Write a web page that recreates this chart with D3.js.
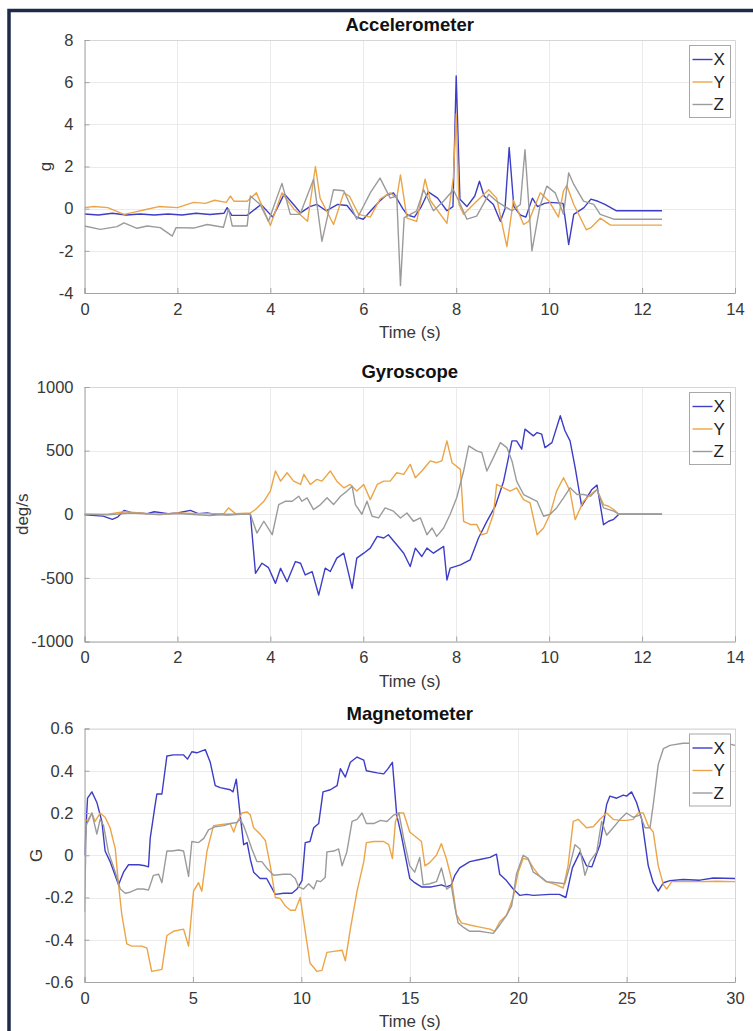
<!DOCTYPE html>
<html>
<head>
<meta charset="utf-8">
<script src="https://cdn.jsdelivr.net/npm/d3@7/dist/d3.min.js"></script>
<style>
	body { margin: 0; background: #ffffff; }
	svg text { font-family: "Liberation Sans", Arial, Helvetica, sans-serif; }
</style>
</head>
<body>
<div class="chart"></div>
<script>
// ---- data: [time (s), value] ----
var seriesNames = ["X", "Y", "Z"];

var accX = [[0,-0.25],[0.3,-0.3],[0.6,-0.22],[0.9,-0.3],[1.2,-0.25],[1.5,-0.3],[1.8,-0.25],[2.1,-0.3],[2.4,-0.22],[2.7,-0.28],[3.0,-0.22],[3.07,0.05],[3.17,-0.32],[3.5,-0.32],[3.8,0.2],[4.05,-0.4],[4.3,0.7],[4.5,0.2],[4.65,-0.2],[4.85,0.1],[5.0,0.2],[5.2,-0.1],[5.45,0.2],[5.65,0.15],[5.85,-0.4],[6.0,-0.5],[6.2,0.0],[6.35,0.35],[6.5,0.65],[6.65,0.75],[6.85,0.0],[6.95,-0.3],[7.1,-0.4],[7.25,0.1],[7.4,0.8],[7.6,0.5],[7.8,-0.1],[7.93,0.1],[8.0,6.3],[8.08,0.45],[8.23,0.1],[8.4,0.6],[8.5,1.3],[8.6,0.6],[8.8,0.2],[8.95,-0.6],[9.05,0.0],[9.14,2.9],[9.24,0.1],[9.38,-0.3],[9.5,-0.4],[9.64,0.5],[9.75,0.1],[9.9,0.25],[10.03,0.3],[10.3,0.25],[10.42,-1.7],[10.53,-0.27],[10.75,0.05],[10.9,0.45],[11.05,0.35],[11.2,0.2],[11.45,-0.1],[12.43,-0.1]];
var accY = [[0,0.05],[0.2,0.1],[0.5,0.05],[0.85,-0.27],[1.1,-0.15],[1.3,-0.05],[1.6,0.1],[2.0,0.05],[2.35,0.3],[2.6,0.25],[2.8,0.4],[3.05,0.3],[3.14,0.6],[3.22,0.35],[3.5,0.35],[3.7,0.75],[4.0,-0.8],[4.25,0.75],[4.5,0.0],[4.8,-0.6],[4.97,2.0],[5.07,0.5],[5.36,-0.75],[5.58,0.75],[5.7,0.6],[5.9,-0.27],[6.15,-0.4],[6.36,0.45],[6.58,0.75],[6.72,0.5],[6.8,1.6],[6.94,-0.45],[7.15,-0.6],[7.33,1.4],[7.44,0.4],[7.8,-0.7],[7.94,1.5],[8.0,4.5],[8.06,0.2],[8.16,-0.27],[8.44,0.35],[8.7,0.9],[8.87,0.5],[9.09,-1.8],[9.23,0.4],[9.45,-0.75],[9.56,-0.6],[9.81,0.75],[10.0,0.35],[10.2,-0.4],[10.31,0.85],[10.38,1.1],[10.53,0.2],[10.8,-1.0],[10.9,-0.9],[11.1,-0.45],[11.32,-0.78],[12.43,-0.78]];
var accZ = [[0,-0.82],[0.34,-0.98],[0.7,-0.85],[0.85,-0.67],[1.13,-0.93],[1.35,-0.82],[1.63,-0.9],[1.89,-1.3],[1.97,-0.9],[2.35,-0.92],[2.64,-0.75],[2.99,-0.88],[3.1,0.0],[3.18,-0.82],[3.5,-0.82],[3.57,0.6],[3.78,0.2],[3.96,-0.6],[4.25,1.2],[4.43,-0.27],[4.64,-0.27],[4.93,1.4],[5.11,-1.55],[5.36,0.9],[5.58,0.85],[5.86,-0.5],[6.15,0.75],[6.36,1.45],[6.58,0.5],[6.72,0.6],[6.8,-3.65],[6.88,-0.43],[7.15,-0.1],[7.3,0.9],[7.51,-0.1],[7.73,0.36],[7.94,0.9],[8.09,0.2],[8.23,-0.5],[8.44,-0.35],[8.7,0.68],[8.87,0.35],[9.05,0.1],[9.2,-0.1],[9.38,0.2],[9.48,2.8],[9.63,-2.0],[9.8,0.1],[9.95,1.07],[10.13,0.75],[10.31,-0.27],[10.42,1.7],[10.53,1.15],[10.74,0.36],[10.96,0.2],[11.1,-0.27],[11.39,-0.5],[12.43,-0.5]];

var gyroX = [[0,-5],[0.4,-15],[0.6,-40],[0.72,-20],[0.85,30],[1.0,15],[1.35,5],[1.5,20],[1.8,5],[2.0,10],[2.28,30],[2.45,5],[2.64,10],[2.8,0],[3.07,-5],[3.36,0],[3.57,0],[3.68,-464],[3.82,-385],[3.96,-420],[4.11,-543],[4.22,-425],[4.36,-530],[4.54,-372],[4.65,-385],[4.75,-477],[4.9,-451],[5.04,-635],[5.18,-424],[5.29,-450],[5.43,-345],[5.58,-306],[5.76,-583],[5.86,-345],[6.01,-306],[6.15,-266],[6.3,-174],[6.44,-187],[6.54,-161],[6.72,-240],[6.87,-306],[7.01,-411],[7.12,-266],[7.26,-332],[7.37,-266],[7.51,-306],[7.73,-253],[7.8,-517],[7.87,-424],[8.09,-398],[8.3,-359],[8.48,-187],[8.66,-56],[8.84,63],[9.02,260],[9.2,577],[9.3,577],[9.41,511],[9.48,669],[9.66,616],[9.74,642],[9.84,629],[9.91,524],[10.06,563],[10.24,774],[10.34,656],[10.45,577],[10.56,366],[10.7,63],[10.81,130],[10.92,195],[11.03,229],[11.17,-82],[11.28,-55],[11.39,-40],[11.5,0],[12.43,0]];
var gyroY = [[0,0],[0.5,0],[0.85,20],[1.2,10],[1.6,-5],[2.0,10],[2.5,5],[3.0,5],[3.1,50],[3.25,5],[3.57,10],[3.68,37],[3.86,102],[4.0,182],[4.11,340],[4.22,260],[4.36,326],[4.5,260],[4.65,234],[4.72,313],[4.86,234],[5.0,274],[5.11,260],[5.29,340],[5.43,260],[5.58,208],[5.72,234],[5.86,182],[6.01,234],[6.15,115],[6.3,234],[6.44,260],[6.58,260],[6.72,326],[6.87,313],[7.01,392],[7.12,287],[7.26,340],[7.44,419],[7.58,405],[7.69,419],[7.8,577],[7.91,405],[8.09,353],[8.16,-56],[8.3,-80],[8.44,-80],[8.55,-161],[8.66,-148],[8.8,0],[8.87,234],[9.02,208],[9.16,182],[9.3,208],[9.45,115],[9.59,90],[9.74,-161],[9.88,-108],[10.02,0],[10.16,182],[10.31,287],[10.45,182],[10.56,-42],[10.74,103],[10.89,155],[11.03,195],[11.17,76],[11.28,63],[11.39,37],[11.5,0],[12.43,0]];
var gyroZ = [[0,0],[0.5,-5],[1.0,10],[1.5,0],[2.0,5],[2.7,-10],[3.0,0],[3.57,0],[3.71,-148],[3.86,-55],[4.04,-161],[4.18,76],[4.32,102],[4.47,102],[4.61,142],[4.68,102],[4.79,129],[4.93,37],[5.08,76],[5.22,129],[5.36,76],[5.51,142],[5.65,182],[5.76,221],[5.83,76],[5.97,0],[6.08,102],[6.19,-16],[6.33,-29],[6.47,50],[6.65,24],[6.8,-29],[6.94,10],[7.08,-55],[7.23,-29],[7.37,-161],[7.48,-108],[7.58,-174],[7.73,-108],[7.87,0],[8.01,129],[8.16,340],[8.27,537],[8.44,498],[8.55,485],[8.66,340],[8.8,445],[8.95,563],[9.09,524],[9.2,419],[9.3,260],[9.45,155],[9.59,129],[9.74,102],[9.88,-16],[10.02,0],[10.16,50],[10.31,129],[10.45,208],[10.6,155],[10.74,155],[10.89,142],[11.03,195],[11.17,50],[11.39,24],[11.5,0],[12.43,0]];

var magX = [[0,0.0],[0.14,0.27],[0.34,0.3],[0.57,0.25],[0.8,0.16],[0.95,0.02],[1.18,-0.03],[1.57,-0.14],[1.8,-0.08],[2.03,-0.045],[2.5,-0.045],[2.8,-0.05],[2.95,-0.055],[3.03,0.08],[3.26,0.24],[3.34,0.29],[3.57,0.29],[3.8,0.47],[4.1,0.475],[4.57,0.475],[4.75,0.455],[4.95,0.49],[5.18,0.485],[5.57,0.5],[5.8,0.44],[6.03,0.33],[6.26,0.32],[6.72,0.31],[6.85,0.3],[7.0,0.36],[7.18,0.19],[7.34,0.05],[7.5,0.06],[7.65,-0.02],[7.8,-0.08],[8.1,-0.11],[8.4,-0.11],[8.8,-0.185],[9.18,-0.18],[9.57,-0.18],[9.8,-0.16],[10.03,-0.12],[10.18,0.06],[10.4,0.065],[10.57,0.13],[10.8,0.15],[11.0,0.3],[11.34,0.31],[11.65,0.33],[11.8,0.41],[12.03,0.37],[12.26,0.44],[12.57,0.465],[12.88,0.45],[13.0,0.4],[13.5,0.39],[13.8,0.385],[14.0,0.41],[14.2,0.44],[14.4,0.19],[14.6,0.1],[15.0,-0.11],[15.23,-0.13],[15.54,-0.15],[16.0,-0.15],[16.23,-0.145],[16.46,-0.14],[16.7,-0.15],[16.92,-0.14],[17.08,-0.095],[17.3,-0.06],[17.77,-0.03],[18.23,-0.02],[18.7,-0.01],[19.0,0.005],[19.15,-0.09],[19.46,-0.12],[19.77,-0.16],[20.08,-0.19],[20.38,-0.185],[20.7,-0.19],[21.46,-0.185],[21.9,-0.185],[22.2,-0.2],[22.5,-0.06],[22.85,0.015],[23.15,-0.05],[23.4,-0.055],[23.54,-0.015],[23.77,0.05],[24.08,0.24],[24.23,0.28],[24.54,0.27],[24.85,0.285],[25.0,0.28],[25.23,0.3],[25.46,0.25],[25.7,0.17],[26.0,-0.05],[26.23,-0.13],[26.46,-0.17],[26.7,-0.13],[27.0,-0.12],[27.6,-0.115],[28.38,-0.118],[29.0,-0.108],[30.0,-0.11]];
var magY = [[0,0.17],[0.18,0.16],[0.34,0.2],[0.49,0.16],[0.72,0.2],[0.95,0.18],[1.18,0.13],[1.42,0.03],[1.57,-0.14],[1.72,-0.28],[1.95,-0.42],[2.18,-0.43],[2.65,-0.43],[2.88,-0.44],[3.1,-0.55],[3.34,-0.545],[3.57,-0.54],[3.8,-0.38],[4.1,-0.36],[4.57,-0.35],[4.8,-0.43],[5.03,-0.17],[5.26,-0.13],[5.41,-0.17],[5.65,0.02],[5.95,0.14],[6.26,0.145],[6.72,0.15],[6.88,0.11],[7.03,0.155],[7.26,0.2],[7.5,0.205],[7.65,0.19],[7.8,0.13],[8.1,0.1],[8.34,0.07],[8.57,-0.05],[8.8,-0.2],[9.03,-0.205],[9.26,-0.24],[9.5,-0.26],[9.72,-0.26],[9.95,-0.2],[10.18,-0.36],[10.4,-0.51],[10.72,-0.55],[10.95,-0.545],[11.18,-0.46],[11.5,-0.455],[11.88,-0.45],[12.03,-0.5],[12.26,-0.35],[12.57,-0.17],[12.88,-0.03],[13.0,0.06],[13.34,0.065],[13.8,0.065],[14.03,0.05],[14.2,-0.016],[14.34,0.16],[14.5,0.2],[14.72,0.2],[15.0,0.11],[15.3,0.085],[15.54,0.065],[15.7,-0.05],[15.92,-0.035],[16.23,0.0],[16.46,0.055],[16.7,-0.02],[16.92,-0.11],[17.15,-0.28],[17.38,-0.32],[17.77,-0.33],[18.23,-0.34],[18.7,-0.35],[18.92,-0.36],[19.15,-0.315],[19.46,-0.285],[19.77,-0.2],[20.0,-0.08],[20.23,-0.015],[20.46,-0.02],[20.7,-0.06],[21.0,-0.1],[21.3,-0.125],[21.77,-0.14],[22.08,-0.155],[22.3,-0.05],[22.54,0.16],[22.77,0.17],[23.15,0.13],[23.46,0.135],[23.77,0.17],[24.08,0.2],[24.38,0.17],[24.7,0.165],[25.0,0.165],[25.3,0.17],[25.54,0.2],[25.77,0.2],[26.0,0.14],[26.23,0.11],[26.46,-0.05],[26.7,-0.14],[26.85,-0.16],[27.08,-0.125],[27.6,-0.125],[28.38,-0.125],[29.15,-0.123],[30,-0.125]];
var magZ = [[0,-0.27],[0.08,0.14],[0.18,0.17],[0.34,0.2],[0.57,0.1],[0.72,0.17],[0.88,0.14],[1.1,0.016],[1.42,-0.08],[1.65,-0.16],[1.88,-0.18],[2.1,-0.175],[2.42,-0.16],[2.72,-0.16],[2.95,-0.165],[3.18,-0.095],[3.42,-0.09],[3.57,-0.13],[3.8,0.02],[4.03,0.02],[4.34,0.025],[4.57,0.02],[4.8,-0.1],[4.95,0.065],[5.26,0.06],[5.5,0.08],[5.72,0.12],[6.03,0.135],[6.42,0.14],[6.72,0.15],[7.03,0.155],[7.18,0.17],[7.34,0.14],[7.5,0.095],[7.72,0.03],[7.95,-0.03],[8.18,-0.03],[8.4,-0.06],[8.72,-0.095],[9.18,-0.09],[9.5,-0.09],[9.72,-0.11],[9.88,-0.15],[10.1,-0.16],[10.34,-0.135],[10.57,-0.16],[10.72,-0.12],[10.88,-0.125],[11.1,-0.105],[11.18,0.016],[11.5,0.02],[11.72,0.03],[11.88,-0.05],[12.1,0.016],[12.34,0.16],[12.57,0.17],[12.8,0.2],[13.0,0.15],[13.34,0.15],[13.65,0.165],[13.95,0.16],[14.26,0.19],[14.5,0.2],[14.72,0.08],[15.0,-0.05],[15.23,-0.08],[15.46,-0.01],[15.62,-0.14],[15.92,-0.135],[16.23,-0.125],[16.46,-0.06],[16.7,-0.16],[16.92,-0.145],[17.08,-0.245],[17.23,-0.32],[17.46,-0.34],[17.77,-0.36],[18.23,-0.36],[18.54,-0.365],[18.85,-0.37],[19.15,-0.33],[19.46,-0.285],[19.7,-0.24],[19.92,-0.09],[20.23,0.0],[20.46,-0.015],[20.7,-0.08],[21.0,-0.1],[21.3,-0.125],[21.77,-0.13],[22.15,-0.135],[22.38,-0.05],[22.62,0.05],[22.85,0.03],[23.08,-0.095],[23.3,-0.03],[23.62,0.015],[23.85,0.16],[24.08,0.095],[24.38,0.13],[24.7,0.17],[25.0,0.2],[25.3,0.18],[25.62,0.19],[25.85,0.13],[26.08,0.13],[26.23,0.24],[26.46,0.43],[26.7,0.505],[27.0,0.52],[27.6,0.53],[28.38,0.53],[29.6,0.53],[30,0.52]];

// tick labels
var accXTicks = [0, 2, 4, 6, 8, 10, 12, 14];
var accYTicks = [-4, -2, 0, 2, 4, 6, 8];
var gyroXTicks = [0, 2, 4, 6, 8, 10, 12, 14];
var gyroYTicks = [-1000, -500, 0, 500, 1000];
var magXTicks = [0, 5, 10, 15, 20, 25, 30];
var magYTicks = [-0.6, -0.4, -0.2, 0, 0.2, 0.4, 0.6];

// ---- layout ----
var width = 753, height = 1031;
var left = 84.5, right = 735;
var colors = ["#3d3dc6", "#eba548", "#9b9b9b"];

var panels = [
	{ title: "Accelerometer", ylabel: "g", ylabelX: 45, series: [accX, accY, accZ],
	  xTicks: accXTicks, yTicks: accYTicks, top: 40, bottom: 293 },
	{ title: "Gyroscope", ylabel: "deg/s", ylabelX: 22, series: [gyroX, gyroY, gyroZ],
	  xTicks: gyroXTicks, yTicks: gyroYTicks, top: 387, bottom: 641.5 },
	{ title: "Magnetometer", ylabel: "G", ylabelX: 36, series: [magX, magY, magZ],
	  xTicks: magXTicks, yTicks: magYTicks, top: 728.5, bottom: 982 }
];

var svg = d3.select(".chart")
	.append("svg")
	.attr("width", width)
	.attr("height", height);

svg.append("rect")
	.attr("width", width)
	.attr("height", height)
	.attr("fill", "#ffffff");

// dark frame around the figure
svg.append("rect")
	.attr("x", 9)
	.attr("y", 10.5)
	.attr("width", 800)
	.attr("height", 1100)
	.attr("fill", "none")
	.attr("stroke", "#1d2b48")
	.attr("stroke-width", 3.5);

panels.forEach(function(p, pi){

	var xScale = d3.scaleLinear()
		.domain(d3.extent(p.xTicks))
		.range([left, right]);

	var yScale = d3.scaleLinear()
		.domain(d3.extent(p.yTicks))
		.range([p.bottom, p.top]);

	var g = svg.append("g").attr("class", "panel");

	// grid
	g.append("g")
		.selectAll("line.vgrid")
		.data(p.xTicks)
		.enter()
		.append("line")
		.attr("x1", function(d){ return Math.round(xScale(d)) + 0.5; })
		.attr("x2", function(d){ return Math.round(xScale(d)) + 0.5; })
		.attr("y1", p.top)
		.attr("y2", p.bottom)
		.attr("stroke", "#ebebeb");

	g.append("g")
		.selectAll("line.hgrid")
		.data(p.yTicks)
		.enter()
		.append("line")
		.attr("x1", left)
		.attr("x2", right)
		.attr("y1", function(d){ return Math.round(yScale(d)) + 0.5; })
		.attr("y2", function(d){ return Math.round(yScale(d)) + 0.5; })
		.attr("stroke", "#ebebeb");

	// top and right box edges
	g.append("path")
		.attr("d", "M" + left + "," + (p.top + 0.5) + "H" + (right + 0.5) + "V" + p.bottom)
		.attr("fill", "none")
		.attr("stroke", "#d6d6d6");

	// series
	var clipId = "clip" + pi;
	g.append("clipPath")
		.attr("id", clipId)
		.append("rect")
		.attr("x", left)
		.attr("y", p.top)
		.attr("width", right - left + 1)
		.attr("height", p.bottom - p.top);

	var line = d3.line()
		.x(function(d){ return xScale(d[0]); })
		.y(function(d){ return yScale(d[1]); });

	g.append("g")
		.attr("clip-path", "url(#" + clipId + ")")
		.selectAll("path")
		.data(p.series)
		.enter()
		.append("path")
		.attr("d", line)
		.attr("fill", "none")
		.attr("stroke", function(d, i){ return colors[i]; })
		.attr("stroke-width", 1.4)
		.attr("stroke-linejoin", "round");

	// axes (ticks point inward, like the original)
	var xAxis = d3.axisBottom(xScale)
		.tickValues(p.xTicks)
		.tickSize(-5)
		.tickPadding(11)
		.tickFormat(function(d){ return String(d); });

	var yAxis = d3.axisLeft(yScale)
		.tickValues(p.yTicks)
		.tickSize(-5)
		.tickPadding(11)
		.tickFormat(function(d){ return String(d); });

	var xAxisG = g.append("g")
		.attr("transform", "translate(0," + p.bottom + ")")
		.call(xAxis);

	var yAxisG = g.append("g")
		.attr("transform", "translate(" + left + ",0)")
		.call(yAxis);

	[xAxisG, yAxisG].forEach(function(a){
		a.select(".domain").attr("stroke", "#a3a3a3");
		a.selectAll(".tick line").attr("stroke", "#a3a3a3");
		a.selectAll(".tick text")
			.attr("fill", "#383838")
			.style("font-size", "16.5px")
			.style("font-family", "'Liberation Sans', Arial, sans-serif");
	});
	xAxisG.selectAll(".tick text").attr("dy", "0.71em").attr("y", 10);

	// title
	g.append("text")
		.attr("x", (left + right) / 2)
		.attr("y", p.top - 9)
		.attr("text-anchor", "middle")
		.style("font-weight", "bold")
		.style("font-size", "18.5px")
		.attr("fill", "#111111")
		.text(p.title);

	// x axis label
	g.append("text")
		.attr("x", (left + right) / 2)
		.attr("y", p.bottom + 45)
		.attr("text-anchor", "middle")
		.style("font-size", "17px")
		.attr("fill", "#383838")
		.text("Time (s)");

	// y axis label
	var cy = (p.top + p.bottom) / 2;
	g.append("text")
		.attr("x", p.ylabelX)
		.attr("y", cy)
		.attr("text-anchor", "middle")
		.attr("dominant-baseline", "central")
		.attr("transform", "rotate(-90, " + p.ylabelX + ", " + cy + ")")
		.style("font-size", "17px")
		.attr("fill", "#383838")
		.text(p.ylabel);

	// legend
	var lx = 689.5, ly = p.top + 5.5;
	var legend = g.append("g").attr("transform", "translate(" + lx + "," + ly + ")");
	legend.append("rect")
		.attr("width", 41)
		.attr("height", 72)
		.attr("fill", "#ffffff")
		.attr("stroke", "#a8a8a8");

	var entries = legend.selectAll("g.entry")
		.data(seriesNames)
		.enter()
		.append("g")
		.attr("transform", function(d, i){ return "translate(0," + (14 + i * 22.5) + ")"; });

	entries.append("line")
		.attr("x1", 3)
		.attr("x2", 23)
		.attr("y1", 0)
		.attr("y2", 0)
		.attr("stroke", function(d, i){ return colors[i]; })
		.attr("stroke-width", 1.4);

	entries.append("text")
		.attr("x", 24)
		.attr("y", 0)
		.attr("dominant-baseline", "central")
		.style("font-size", "17px")
		.attr("fill", "#222222")
		.text(function(d){ return d; });
});
</script>
</body>
</html>
